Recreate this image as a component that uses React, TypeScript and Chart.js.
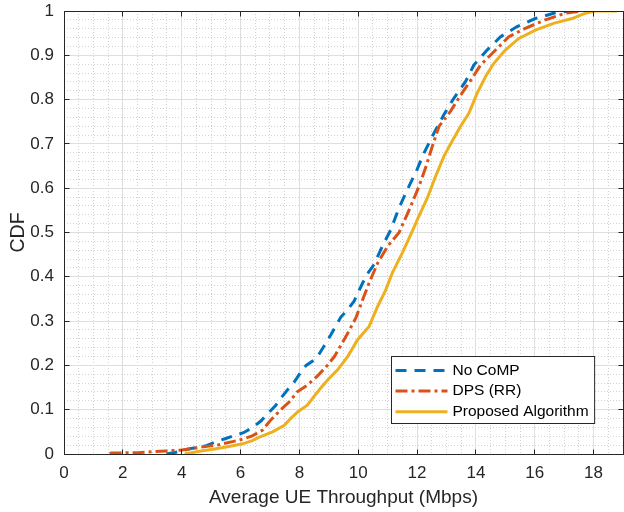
import React, { useEffect, useRef } from "react";
import { Chart, registerables } from "chart.js";

Chart.register(...registerables);

// ---------- data ----------
const seriesLabels = ["No CoMP", "DPS (RR)", "Proposed Algorithm"];

const xTicks = [0, 2, 4, 6, 8, 10, 12, 14, 16, 18];
const yTicks = [0, 0.1, 0.2, 0.3, 0.4, 0.5, 0.6, 0.7, 0.8, 0.9, 1];

const noCompX = [3.48, 3.9, 4.27, 4.8, 5.17, 5.5, 5.85, 6.1, 6.42, 6.7, 6.98, 7.2, 7.37, 7.6, 7.83, 8.05, 8.23, 8.45, 8.62, 8.85, 9.07, 9.25, 9.41, 9.63, 9.86, 10.15, 10.35, 10.54, 10.82, 11.1, 11.39, 11.67, 11.98, 12.24, 12.58, 12.92, 13.25, 13.65, 13.93, 14.38, 14.84, 15.4, 16.02, 16.7, 17.2];
const noCompY = [0, 0.005, 0.012, 0.018, 0.028, 0.035, 0.043, 0.048, 0.06, 0.075, 0.095, 0.11, 0.126, 0.145, 0.163, 0.185, 0.2, 0.21, 0.22, 0.245, 0.269, 0.29, 0.309, 0.325, 0.345, 0.386, 0.41, 0.428, 0.469, 0.505, 0.556, 0.597, 0.639, 0.68, 0.725, 0.767, 0.803, 0.841, 0.878, 0.912, 0.942, 0.965, 0.983, 0.996, 1.0];

const dpsX = [1.56, 1.6, 2.5, 3.48, 4.0, 4.6, 5.2, 5.73, 6.1, 6.4, 6.75, 7.03, 7.37, 7.66, 7.94, 8.28, 8.6, 8.95, 9.19, 9.58, 9.92, 10.15, 10.37, 10.66, 11.0, 11.39, 11.79, 12.07, 12.29, 12.52, 12.75, 13.14, 13.48, 13.87, 14.16, 14.61, 15.12, 15.68, 16.36, 17.04, 17.6];
const dpsY = [0, 0.002, 0.003, 0.007, 0.009, 0.015, 0.02, 0.028, 0.034, 0.041, 0.054, 0.077, 0.1, 0.118, 0.141, 0.156, 0.175, 0.2, 0.22, 0.265, 0.307, 0.348, 0.386, 0.431, 0.469, 0.5, 0.56, 0.605, 0.646, 0.695, 0.74, 0.774, 0.81, 0.848, 0.878, 0.908, 0.942, 0.961, 0.98, 0.995, 1.0];

const proposedX = [4.1, 4.6, 5.17, 5.6, 6.07, 6.4, 6.64, 7.09, 7.49, 7.7, 7.94, 8.27, 8.5, 8.74, 9.0, 9.3, 9.64, 9.98, 10.37, 10.66, 10.94, 11.16, 11.5, 11.84, 12.01, 12.35, 12.63, 12.92, 13.2, 13.48, 13.76, 14.04, 14.33, 14.61, 15.0, 15.46, 16.02, 16.64, 17.27, 17.72, 18.05, 18.8];
const proposedY = [0, 0.006, 0.012, 0.017, 0.023, 0.03, 0.038, 0.05, 0.065, 0.08, 0.095, 0.11, 0.13, 0.15, 0.17, 0.19, 0.22, 0.258, 0.288, 0.333, 0.371, 0.409, 0.454, 0.503, 0.529, 0.578, 0.627, 0.673, 0.707, 0.74, 0.769, 0.814, 0.852, 0.882, 0.912, 0.938, 0.957, 0.972, 0.983, 0.995, 1.0, 1.0];

// ---------- style ----------
const FONT = "'Liberation Sans', Arial, Helvetica, sans-serif";
const AXIS_COLOR = "#262626";
const GRID_COLOR = "#dedede";
const MINOR_COLOR = "#d2d2d2";
const X_MIN = 0, X_MAX = 19, Y_MIN = 0, Y_MAX = 1;
const X_MINOR_STEP = 0.5, Y_MINOR_STEP = 0.02;

const toPoints = (xs: number[], ys: number[]) => xs.map((x, i) => ({ x, y: ys[i] }));

const align = (v: number) => Math.round(v - 0.5) + 0.5;

const framePlugin = {
  id: "matlabFrame",
  beforeDraw(chart: any) {
    const { ctx, chartArea, scales } = chart;
    const { left, right, top, bottom } = chartArea;
    ctx.save();
    ctx.fillStyle = "#ffffff";
    ctx.fillRect(0, 0, chart.width, chart.height);
    ctx.strokeStyle = MINOR_COLOR;
    ctx.lineWidth = 1;
    ctx.setLineDash([1, 2]);
    const nx = Math.round((X_MAX - X_MIN) / X_MINOR_STEP);
    for (let i = 1; i < nx; i++) {
      const v = X_MIN + i * X_MINOR_STEP;
      const px = align(scales.x.getPixelForValue(v));
      ctx.beginPath();
      ctx.moveTo(px, top);
      ctx.lineTo(px, bottom);
      ctx.stroke();
    }
    const ny = Math.round((Y_MAX - Y_MIN) / Y_MINOR_STEP);
    for (let i = 1; i < ny; i++) {
      const v = Y_MIN + i * Y_MINOR_STEP;
      const py = align(scales.y.getPixelForValue(v));
      ctx.beginPath();
      ctx.moveTo(left, py);
      ctx.lineTo(right, py);
      ctx.stroke();
    }
    ctx.restore();
  },
  afterDatasetsDraw(chart: any) {
    const { ctx, chartArea, scales } = chart;
    const L = align(chartArea.left), R = align(chartArea.right);
    const T = align(chartArea.top), B = align(chartArea.bottom);
    const tl = 5;
    ctx.save();
    ctx.strokeStyle = AXIS_COLOR;
    ctx.lineWidth = 1;
    ctx.setLineDash([]);
    ctx.strokeRect(L, T, R - L, B - T);
    ctx.beginPath();
    xTicks.forEach((v) => {
      const px = align(scales.x.getPixelForValue(v));
      ctx.moveTo(px, B); ctx.lineTo(px, B - tl);
      ctx.moveTo(px, T); ctx.lineTo(px, T + tl);
    });
    yTicks.forEach((v) => {
      const py = align(scales.y.getPixelForValue(v));
      ctx.moveTo(L, py); ctx.lineTo(L + tl, py);
      ctx.moveTo(R, py); ctx.lineTo(R - tl, py);
    });
    ctx.stroke();
    ctx.restore();
  },
  afterDraw(chart: any) {
    const { ctx, chartArea } = chart;
    const datasets = chart.data.datasets;
    ctx.save();
    ctx.font = `15.5px ${FONT}`;
    const textW = Math.max(...datasets.map((d: any) => ctx.measureText(d.label).width));
    const sampleLen = 52;
    const boxW = 4 + sampleLen + 5 + textW + 6;
    const boxH = 67;
    const boxRight = chartArea.right - 28;
    const boxBottom = chartArea.bottom - 31;
    const bx = align(boxRight - boxW), by = align(boxBottom - boxH);
    ctx.fillStyle = "#ffffff";
    ctx.fillRect(bx, by, boxW, boxH);
    ctx.strokeStyle = AXIS_COLOR;
    ctx.lineWidth = 1;
    ctx.strokeRect(bx, by, boxW, boxH);
    datasets.forEach((d: any, i: number) => {
      const yy = by + 14 + i * 20.6;
      ctx.beginPath();
      ctx.strokeStyle = d.borderColor;
      ctx.lineWidth = d.borderWidth;
      ctx.setLineDash(d.borderDash || []);
      ctx.moveTo(bx + 4, yy);
      ctx.lineTo(bx + 4 + sampleLen, yy);
      ctx.stroke();
      ctx.setLineDash([]);
      ctx.fillStyle = "#000000";
      ctx.textBaseline = "middle";
      ctx.textAlign = "left";
      ctx.fillText(d.label, bx + 4 + sampleLen + 5, yy);
    });
    ctx.restore();
  },
};

export default function App() {
  const ref = useRef<HTMLCanvasElement>(null);

  useEffect(() => {
    document.body.style.margin = "0";
    const canvas = ref.current;
    if (!canvas) return;
    const chart = new Chart(canvas, {
      type: "line",
      data: {
        datasets: [
          {
            label: seriesLabels[0],
            data: toPoints(noCompX, noCompY),
            borderColor: "#0072BD",
            borderWidth: 3,
            borderDash: [11, 8],
            pointRadius: 0,
            tension: 0,
            fill: false,
            order: 2,
          },
          {
            label: seriesLabels[1],
            data: toPoints(dpsX, dpsY),
            borderColor: "#D95319",
            borderWidth: 3,
            borderDash: [12, 4, 3, 4],
            pointRadius: 0,
            tension: 0,
            fill: false,
            order: 1,
          },
          {
            label: seriesLabels[2],
            data: toPoints(proposedX, proposedY),
            borderColor: "#EDB120",
            borderWidth: 3,
            pointRadius: 0,
            tension: 0,
            fill: false,
            order: 0,
          },
        ],
      },
      options: {
        animation: false,
        responsive: false,
        events: [],
        layout: { padding: { top: 11, right: 1, bottom: 0, left: 0 } },
        plugins: {
          legend: { display: false },
          tooltip: { enabled: false },
        },
        scales: {
          x: {
            type: "linear",
            min: X_MIN,
            max: X_MAX,
            afterBuildTicks: (s: any) => {
              s.ticks = xTicks.map((v) => ({ value: v }));
            },
            afterFit: (s: any) => {
              s.height = 58;
              s.paddingLeft = 0;
              s.paddingRight = 0;
            },
            grid: { color: GRID_COLOR, drawTicks: false, lineWidth: 1 },
            border: { display: false },
            ticks: {
              padding: 9,
              color: AXIS_COLOR,
              font: { family: FONT, size: 17 },
              maxRotation: 0,
              autoSkip: false,
              callback: (v: any) => String(v),
            },
            title: {
              display: true,
              text: "Average UE Throughput (Mbps)",
              color: AXIS_COLOR,
              font: { family: FONT, size: 19 },
              padding: { top: 0, bottom: 3 },
            },
          },
          y: {
            type: "linear",
            min: Y_MIN,
            max: Y_MAX,
            afterBuildTicks: (s: any) => {
              s.ticks = yTicks.map((v) => ({ value: v }));
            },
            afterFit: (s: any) => {
              s.width = 64;
              s.paddingTop = 0;
              s.paddingBottom = 0;
            },
            grid: { color: GRID_COLOR, drawTicks: false, lineWidth: 1 },
            border: { display: false },
            ticks: {
              padding: 10,
              color: AXIS_COLOR,
              font: { family: FONT, size: 17 },
              autoSkip: false,
              callback: (v: any) => String(v),
            },
            title: {
              display: true,
              text: "CDF",
              color: AXIS_COLOR,
              font: { family: FONT, size: 19.5 },
              padding: { top: 7, bottom: 0 },
            },
          },
        },
      },
      plugins: [framePlugin],
    } as any);
    return () => chart.destroy();
  }, []);

  return (
    <div style={{ width: 624, height: 512 }}>
      <canvas ref={ref} width={624} height={512} style={{ display: "block" }} />
    </div>
  );
}
